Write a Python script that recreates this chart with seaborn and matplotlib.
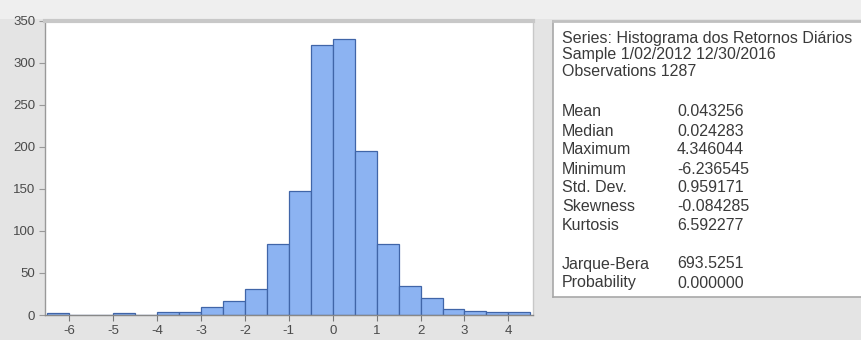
import matplotlib
matplotlib.use("Agg")
import matplotlib.pyplot as plt
import seaborn as sns
import numpy as np
from matplotlib.patches import Rectangle

# ---- data ----
bin_left = [-6.5, -6.0, -5.5, -5.0, -4.5, -4.0, -3.5, -3.0, -2.5, -2.0, -1.5,
            -1.0, -0.5, 0.0, 0.5, 1.0, 1.5, 2.0, 2.5, 3.0, 3.5, 4.0]
counts = [2, 0, 0, 2, 0, 3, 3, 10, 17, 31, 85,
          147, 321, 328, 195, 85, 35, 20, 7, 5, 3, 3]
bin_width = 0.5
x_ticks = [-6, -5, -4, -3, -2, -1, 0, 1, 2, 3, 4]
y_ticks = [0, 50, 100, 150, 200, 250, 300, 350]

header_lines = ["Series: Histograma dos Retornos Diários",
                "Sample 1/02/2012 12/30/2016",
                "Observations 1287"]
stat_names = ["Mean", "Median", "Maximum", "Minimum", "Std. Dev.",
              "Skewness", "Kurtosis"]
stat_values = ["0.043256", "0.024283", "4.346044", "-6.236545", "0.959171",
               "-0.084285", "6.592277"]
test_names = ["Jarque-Bera", "Probability"]
test_values = ["693.5251", "0.000000"]

# ---- figure ----
sns.set_theme(style="white")
plt.rcParams['font.family'] = ['Liberation Sans', 'DejaVu Sans']

W, H = 861, 340
fig = plt.figure(figsize=(W / 100, H / 100), dpi=100)
fig.patch.set_facecolor("#e4e4e4")
# lighter strip at the very top (behind everything)
fig.patches.append(Rectangle((0, (H - 19) / H), 1, 19 / H, transform=fig.transFigure,
                             facecolor="#efefef", edgecolor="none", zorder=-5))

def px_to_fig(x0, y_top, x1, y_bot):
    return [x0 / W, 1 - y_bot / H, (x1 - x0) / W, (y_bot - y_top) / H]

ax = fig.add_axes(px_to_fig(45, 20.7, 533, 315))
ax.set_facecolor("white")
ax.set_zorder(2)

edges = bin_left + [bin_left[-1] + bin_width]
centers = [b + bin_width / 2 for b in bin_left]
sns.histplot(x=centers, weights=counts, bins=edges, ax=ax,
             color="#8cb3f2", edgecolor="#4065a8", linewidth=0.9, alpha=1.0)

ax.set_xlim(-6.55, 4.56)
ax.set_ylim(0, 350)
ax.set_xticks(x_ticks)
ax.set_yticks(y_ticks)
ax.set_xticklabels([str(t) for t in x_ticks])
ax.set_yticklabels([str(t) for t in y_ticks])
ax.set_xlabel("")
ax.set_ylabel("")
ax.tick_params(axis="both", which="major", labelsize=9.5, colors="#4a4a4a",
               length=4, width=0.8, direction="out", pad=3)
ax.tick_params(axis="x", bottom=True, color="#777777")
ax.tick_params(axis="y", left=True, color="#999999")
for side, sp in ax.spines.items():
    sp.set_visible(True)
    sp.set_color("#b0b0b0")
    sp.set_linewidth(1.0)
ax.spines["top"].set_linewidth(3.0)
ax.spines["top"].set_color("#c8c8c8")
ax.spines["bottom"].set_color("#888888")
ax.spines["left"].set_color("#999999")
ax.spines["right"].set_color("#c8c8c8")

# ---- statistics box ----
bx = fig.add_axes(px_to_fig(553, 20.7, 870, 296.7))
bx.set_facecolor("white")
bx.set_xticks([])
bx.set_yticks([])
for sp in bx.spines.values():
    sp.set_color("#a8a8a8")
    sp.set_linewidth(1.2)
bx.spines["top"].set_linewidth(2.0)
bx.spines["top"].set_color("#c0c0c0")

txt_kw = dict(fontsize=11.5, color="#3a3a3a", va="center", ha="left", zorder=5)
lab_x, val_x = 562, 677
header_y = [38, 55, 72]
for t, y in zip(header_lines, header_y):
    fig.text(lab_x / W, 1 - y / H, t, **txt_kw)
stat_y = [112, 131, 150, 169, 188, 207, 226]
for n, v, y in zip(stat_names, stat_values, stat_y):
    fig.text(lab_x / W, 1 - y / H, n, **txt_kw)
    fig.text(val_x / W, 1 - y / H, v, **txt_kw)
test_y = [264, 283]
for n, v, y in zip(test_names, test_values, test_y):
    fig.text(lab_x / W, 1 - y / H, n, **txt_kw)
    fig.text(val_x / W, 1 - y / H, v, **txt_kw)

fig.savefig("out.png", dpi=100, facecolor=fig.get_facecolor())
